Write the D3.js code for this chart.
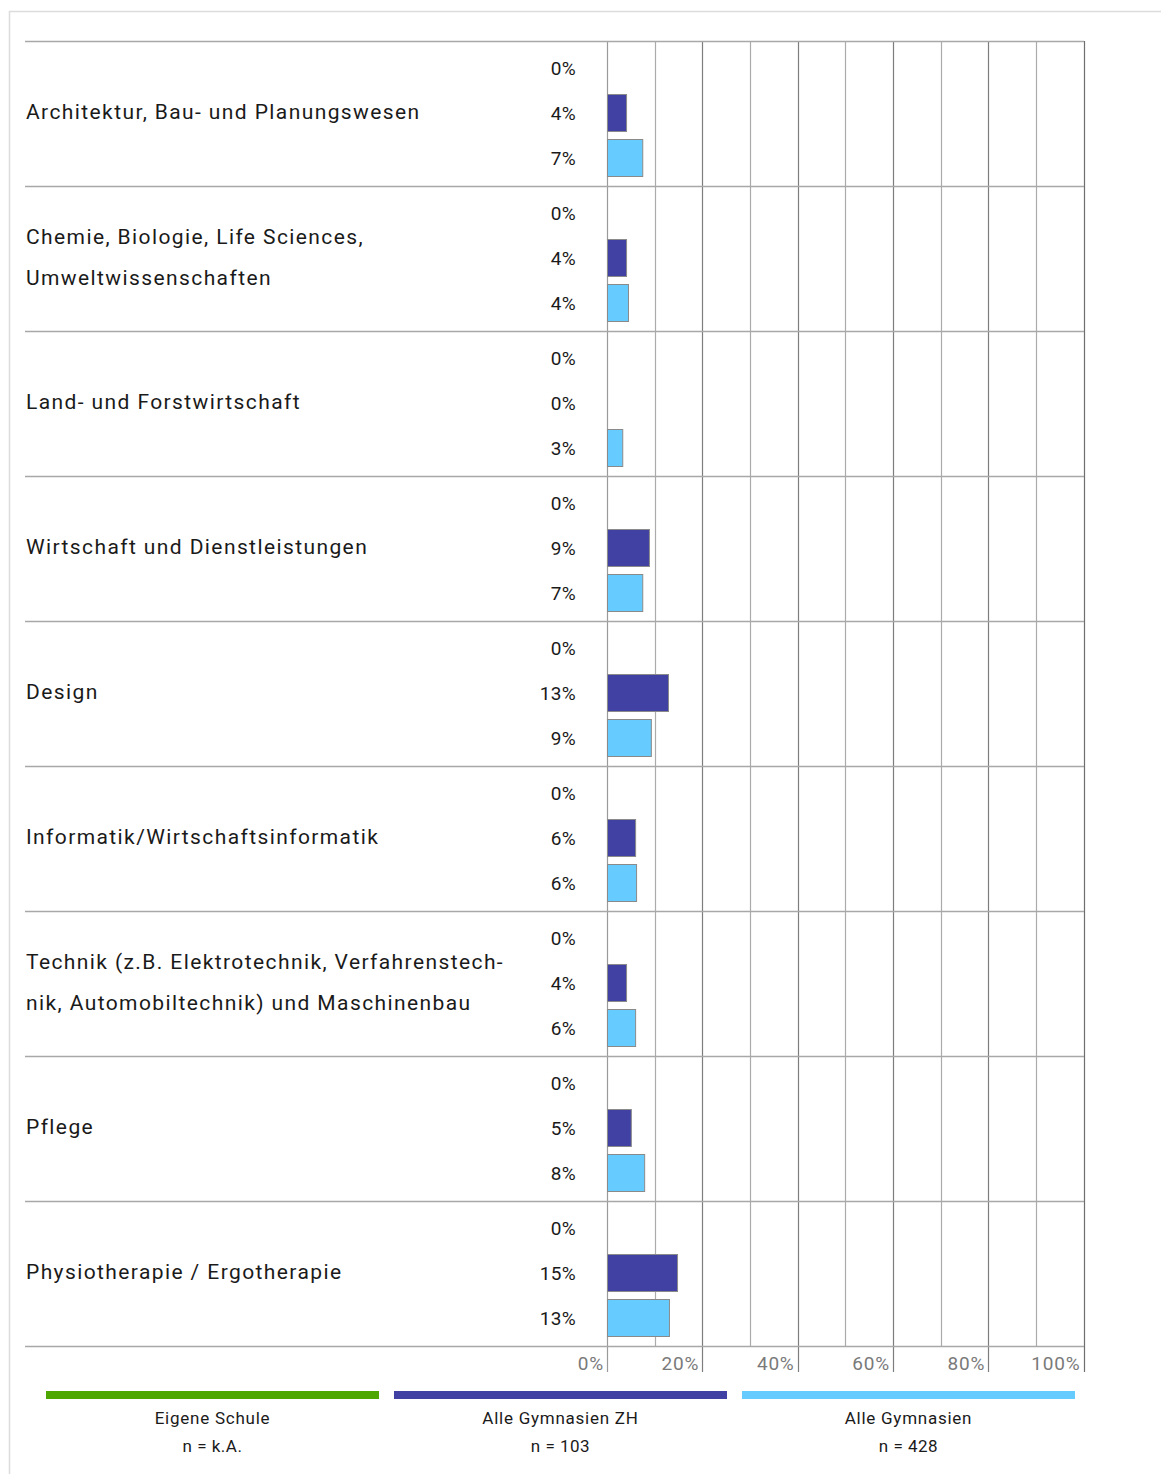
<!DOCTYPE html>
<html>
<head>
<meta charset="utf-8">
<script src="https://cdn.jsdelivr.net/npm/d3@7"></script>
<style>
  html, body { margin: 0; padding: 0; background: #fff; }
  svg { display: block; font-family: Roboto, "Noto Sans", sans-serif; }
</style>
</head>
<body>
<svg id="chart" width="1161" height="1474"></svg>
<script>
// ---- data ----
const categories = [
  ["Architektur, Bau- und Planungswesen"],
  ["Chemie, Biologie, Life Sciences,", "Umweltwissenschaften"],
  ["Land- und Forstwirtschaft"],
  ["Wirtschaft und Dienstleistungen"],
  ["Design"],
  ["Informatik/Wirtschaftsinformatik"],
  ["Technik (z.B. Elektrotechnik, Verfahrenstech-", "nik, Automobiltechnik) und Maschinenbau"],
  ["Pflege"],
  ["Physiotherapie / Ergotherapie"]
];
const seriesNames = ["Eigene Schule", "Alle Gymnasien ZH", "Alle Gymnasien"];
const seriesN = ["n = k.A.", "n = 103", "n = 428"];
const eigeneSchule   = [0, 0, 0, 0, 0, 0, 0, 0, 0];
const gymnasienZH    = [4.0, 4.0, 0, 8.8, 12.8, 5.9, 4.0, 5.0, 14.7];
const gymnasienAlle  = [7.4, 4.4, 3.2, 7.4, 9.2, 6.1, 5.9, 7.8, 13.0];
const tickValues = [0, 20, 40, 60, 80, 100];
const gridValues = [0, 10, 20, 30, 40, 50, 60, 70, 80, 90, 100];

const series = [eigeneSchule, gymnasienZH, gymnasienAlle];
const colors = ["#4ea600", "#4141a3", "#66ccff"];

// ---- layout ----
const svg = d3.select("#chart");
const topY = 41, rowH = 145;
const x = d3.scaleLinear().domain([0, 100]).range([607, 1083.5]);
const y = d3.scaleBand().domain(d3.range(categories.length))
  .range([topY, topY + rowH * categories.length]);
const subCenter = i => 27 + i * 45;
const barH = 37;

// outer frame
svg.append("line").attr("x1", 9).attr("x2", 1161).attr("y1", 11.5).attr("y2", 11.5)
  .attr("stroke", "#dcdcdc").attr("stroke-width", 1.5);
svg.append("line").attr("x1", 9.5).attr("x2", 9.5).attr("y1", 11).attr("y2", 1474)
  .attr("stroke", "#dcdcdc").attr("stroke-width", 1.5);

const plotBottom = topY + rowH * categories.length;

// vertical grid lines
svg.append("g").selectAll("line").data(gridValues).join("line")
  .attr("x1", d => Math.round(x(d)) + 0.5).attr("x2", d => Math.round(x(d)) + 0.5)
  .attr("y1", topY).attr("y2", d => (d % 20 === 0) ? plotBottom + 26 : plotBottom)
  .attr("stroke", d => d === 100 ? "#6e6e6e" : (d % 20 === 0 && d !== 0 ? "#7d7d7d" : (d === 0 ? "#9a9a9a" : "#ababab")))
  .attr("stroke-width", 1.2);

// horizontal row lines
svg.append("g").selectAll("line").data(d3.range(categories.length + 1)).join("line")
  .attr("x1", 25).attr("x2", 1084)
  .attr("y1", i => topY + i * rowH + 0.5).attr("y2", i => topY + i * rowH + 0.5)
  .attr("stroke", "#a8a8a8").attr("stroke-width", 1.6);

// rows
const rows = svg.append("g").selectAll("g").data(categories).join("g")
  .attr("transform", (d, i) => `translate(0,${y(i)})`);

// category labels
rows.append("text")
  .attr("x", 26)
  .attr("font-size", 21)
  .attr("fill", "#1a1a1a")
  .attr("letter-spacing", 1.4)
  .each(function(lines) {
    const t = d3.select(this);
    const lh = 41;
    const start = rowH / 2 - (lines.length - 1) * lh / 2 - 1.5;
    lines.forEach((ln, k) => {
      t.append("tspan").attr("x", 26).attr("y", start + k * lh).attr("dy", "0.35em").text(ln);
    });
  });

// value labels and bars
rows.each(function(d, i) {
  const g = d3.select(this);
  series.forEach((s, k) => {
    const v = s[i];
    g.append("text")
      .attr("x", 576).attr("y", subCenter(k)).attr("dy", "0.35em")
      .attr("text-anchor", "end").attr("font-size", 19).attr("fill", "#1a1a1a")
      .attr("letter-spacing", 0.3)
      .text(Math.round(v) + "%");
    if (v > 0) {
      g.append("rect")
        .attr("x", x(0) + 0.5).attr("y", subCenter(k) - barH / 2)
        .attr("width", x(v) - x(0)).attr("height", barH)
        .attr("fill", colors[k]).attr("stroke", "#8a8a8a").attr("stroke-width", 1);
    }
  });
});

// axis tick labels
svg.append("g").selectAll("text").data(tickValues).join("text")
  .attr("x", d => x(d) - 3).attr("y", plotBottom + 17).attr("dy", "0.35em")
  .attr("text-anchor", "end").attr("font-size", 19).attr("fill", "#7a7a7a")
  .attr("letter-spacing", 0.8)
  .text(d => d + "%");

// legend
const lx = d3.scaleBand().domain(d3.range(3)).range([46, 1075]).paddingInner(0.043);
const lg = svg.append("g").selectAll("g").data(seriesNames).join("g")
  .attr("transform", (d, i) => `translate(${lx(i)},0)`);
lg.append("rect").attr("x", 0).attr("y", 1391).attr("width", lx.bandwidth()).attr("height", 8)
  .attr("fill", (d, i) => colors[i]);
lg.append("text").attr("x", lx.bandwidth() / 2).attr("y", 1418).attr("dy", "0.35em")
  .attr("text-anchor", "middle").attr("font-size", 17).attr("fill", "#1a1a1a")
  .attr("letter-spacing", 0.75).text(d => d);
lg.append("text").attr("x", lx.bandwidth() / 2).attr("y", 1446).attr("dy", "0.35em")
  .attr("text-anchor", "middle").attr("font-size", 17).attr("fill", "#1a1a1a")
  .attr("letter-spacing", 0.5).text((d, i) => seriesN[i]);
</script>
</body>
</html>
